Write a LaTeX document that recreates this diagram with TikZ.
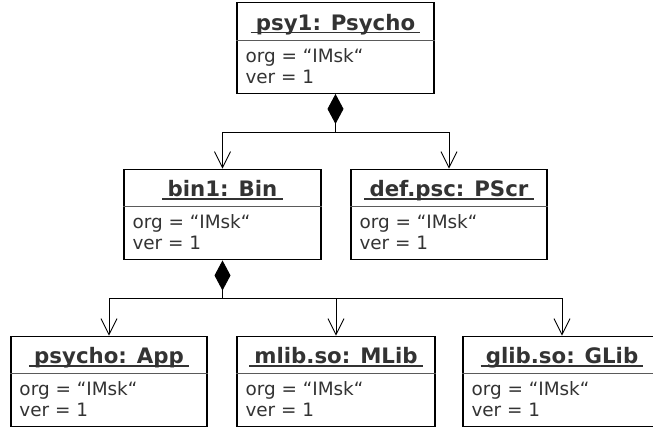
\documentclass[tikz,border=0pt]{standalone}
\usepackage{fontspec}
\setmainfont{DejaVu Sans}
\usetikzlibrary{arrows.meta,calc}
\definecolor{ink}{RGB}{51,51,51}
\definecolor{rule}{RGB}{90,90,90}
\tikzset{
  objbox/.style={draw=black,line width=1.4pt,minimum height=90.5pt,inner sep=0pt},
  objtitle/.style={anchor=base,inner xsep=5pt,inner ysep=0pt,text=ink,font=\fontsize{21.3}{25}\selectfont\bfseries},
  objattr/.style={anchor=base west,inner sep=0pt,text=ink,font=\fontsize{18.4}{21}\selectfont},
  titleline/.style={draw=ink,line width=1.3pt},
  divider/.style={draw=rule,line width=0.9pt},
  owns/.style={line width=0.9pt,{Diamond[length=30pt,width=16pt]}-},
  points/.style={line width=0.9pt,-{Straight Barb[length=16pt,width=16pt]}},
}
\begin{document}
\begin{tikzpicture}[x=1pt,y=1pt]
  \useasboundingbox (0,0) rectangle (653,428);
  % object boxes
  \foreach \n/\x/\y/\w/\ttl in {psy1/335.5/380/197/psy1: Psycho, bin1/222.5/213.5/197/bin1: Bin, defpsc/449/213.5/196/def.psc: PScr, psycho/109/46.5/196/psycho: App, mlib/336/46.5/198/mlib.so: MLib, glib/562/46.5/198/glib.so: GLib}{
    \node[objbox,minimum width=\w pt] (\n) at (\x,\y) {};
    \node[objtitle] (\n-title) at ([yshift=-28pt]\n.north) {\ttl};
    \draw[titleline] ([yshift=-2.5pt]\n-title.base west) -- ([yshift=-2.5pt]\n-title.base east);
    \draw[divider] ([yshift=-38pt]\n.north west) -- ([yshift=-38pt]\n.north east);
    \node[objattr] (\n-org) at ([xshift=9pt,yshift=-60pt]\n.north west) {org = “IMsk“};
    \node[objattr] (\n-ver) at ([xshift=9pt,yshift=-81pt]\n.north west) {ver = 1};
  }
  % composition links
  \coordinate (j1) at ([yshift=-39pt]psy1.south);
  \coordinate (j2) at ([yshift=-38pt]bin1.south);
  \draw[owns] (psy1.south) -- (j1);
  \draw[points] (j1) -| (bin1.north);
  \draw[points] (j1) -| (defpsc.north);
  \draw[owns] (bin1.south) -- (j2);
  \foreach \m in {psycho,mlib,glib} \draw[points] (j2) -| (\m.north);
\end{tikzpicture}
\end{document}
